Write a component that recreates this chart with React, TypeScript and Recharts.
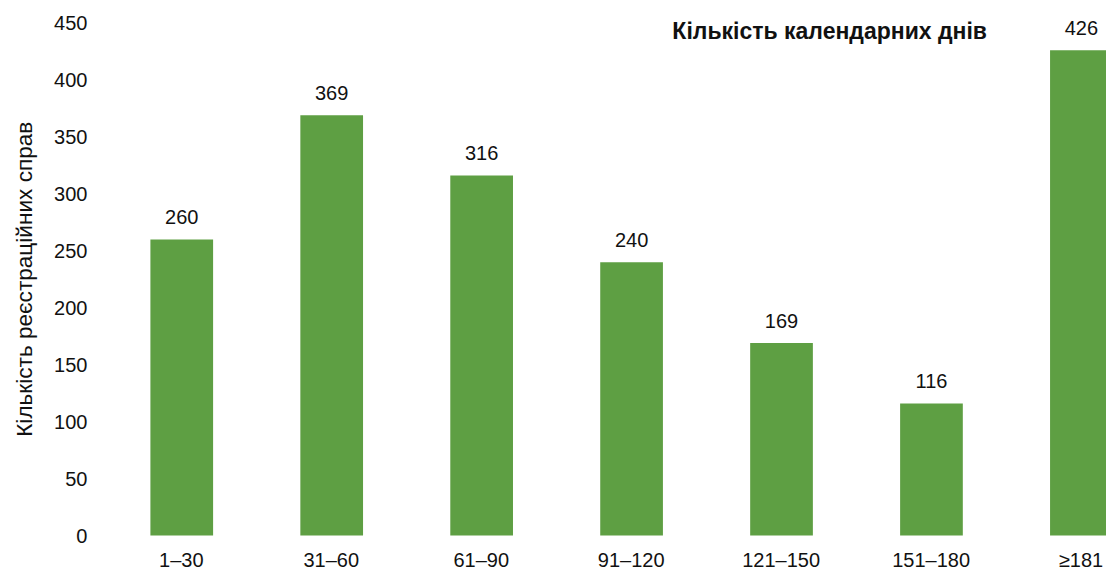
import React from 'react';
import { BarChart, Bar, XAxis, YAxis, LabelList, Label } from 'recharts';

const categories = ['1–30', '31–60', '61–90', '91–120', '121–150', '151–180', '≥181'];
const counts = [260, 369, 316, 240, 169, 116, 426];
const yTicks = [0, 50, 100, 150, 200, 250, 300, 350, 400, 450];

const data = categories.map((c, i) => ({ name: c, value: counts[i] }));

const FONT = '"Liberation Sans", Arial, sans-serif';
const TEXT = '#111111';
const GREEN = '#5E9F43';

export default function App() {
  return (
    <div
      style={{
        position: 'fixed',
        left: 0,
        top: 0,
        width: 1106,
        height: 569,
        overflow: 'hidden',
        background: '#ffffff',
        fontFamily: FONT,
      }}
    >
      <BarChart
        width={1156}
        height={569}
        data={data}
        margin={{ top: 23, right: 0, bottom: 0, left: 0 }}
        barCategoryGap={0}
      >
        <XAxis
          dataKey="name"
          axisLine={false}
          tickLine={false}
          tickSize={0}
          tickMargin={17}
          height={33.5}
          interval={0}
          tick={{ fill: TEXT, fontSize: 20, fontFamily: FONT }}
        />
        <YAxis
          width={106.4}
          domain={[0, 450]}
          ticks={yTicks}
          axisLine={false}
          tickLine={false}
          tickSize={0}
          tickMargin={19}
          interval={0}
          tick={{ fill: TEXT, fontSize: 20, fontFamily: FONT }}
        >
          <Label
            value="Кількість реєстраційних справ"
            angle={-90}
            position="insideLeft"
            offset={24}
            style={{ textAnchor: 'middle', fill: TEXT, fontSize: 22.6, fontFamily: FONT }}
          />
        </YAxis>
        <Bar dataKey="value" fill={GREEN} barSize={62.7} isAnimationActive={false}>
          <LabelList
            dataKey="value"
            position="top"
            offset={15.5}
            style={{ fill: TEXT, fontSize: 20, fontFamily: FONT }}
          />
        </Bar>
      </BarChart>
      <div
        style={{
          position: 'absolute',
          right: 119,
          top: 19.8,
          fontSize: 23,
          lineHeight: '23px',
          fontWeight: 'bold',
          color: TEXT,
          whiteSpace: 'nowrap',
          fontFamily: FONT,
        }}
      >
        Кількість календарних днів
      </div>
    </div>
  );
}
